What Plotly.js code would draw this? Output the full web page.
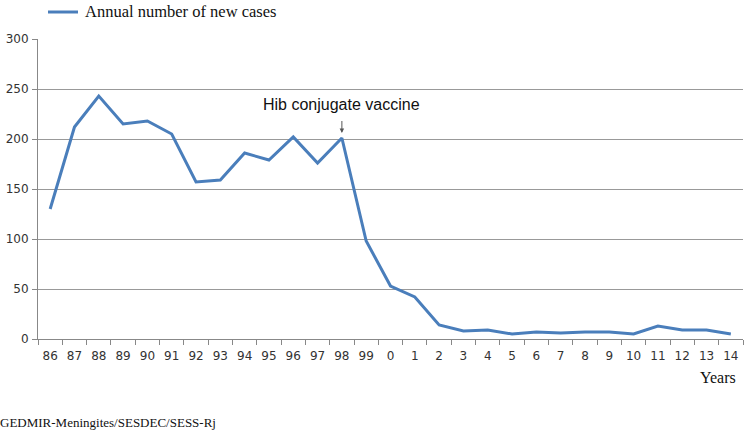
<!DOCTYPE html>
<html><head><meta charset="utf-8">
<script src="https://cdn.plot.ly/plotly-3.0.1.min.js"></script>
<style>html,body{margin:0;padding:0;background:#fff}#c{width:750px;height:433px}</style>
</head><body><div id="c"></div>
<script>
const years = ['86','87','88','89','90','91','92','93','94','95','96','97','98','99','0','1','2','3','4','5','6','7','8','9','10','11','12','13','14'];
const newCases = [130,212,243,215,218,205,157,159,186,179,202,176,201,98,53,42,14,8,9,5,7,6,7,7,5,13,9,9,5];
const yTicks = [0,50,100,150,200,250,300];
const seriesName = 'Annual number of new cases';
const lineColor = '#4a7ebb';

const M = {l:38, r:7, t:39, b:94};
const pw = 750-M.l-M.r, ph = 433-M.t-M.b;
const px = v => (v-M.l)/pw;          // pixel x -> paper
const py = v => (433-M.b-v)/ph;      // pixel y -> paper

const trace = {
  x: years, y: newCases, type:'scatter', mode:'lines',
  name: seriesName, showlegend:false,
  line:{color:lineColor, width:3}
};
const layout = {
  width:750, height:433,
  margin:M,
  paper_bgcolor:'#fff', plot_bgcolor:'#fff',
  showlegend:false,
  xaxis:{type:'category', categoryorder:'array', categoryarray:years, tickvals:years, ticktext:years,
    range:[-0.5, years.length-0.5],
    tickson:'boundaries', ticks:'outside', ticklen:5, tickcolor:'#888', ticklabelstandoff:6,
    showline:true, linecolor:'#888', linewidth:1, showgrid:false, zeroline:false,
    tickfont:{family:'DejaVu Sans', size:12, color:'#333'}, tickangle:0},
  yaxis:{range:[0,300], tickvals:yTicks, ticks:'outside', ticklen:5, tickcolor:'#888', ticklabelstandoff:1,
    showline:true, linecolor:'#888', linewidth:1, showgrid:true, gridcolor:'#999', gridwidth:1,
    zeroline:false, tickfont:{family:'DejaVu Sans', size:12, color:'#333'}},
  shapes:[
    {type:'line', xref:'paper', yref:'paper', x0:px(48), x1:px(78), y0:py(12), y1:py(12),
     line:{color:lineColor, width:3}}
  ],
  annotations:[
    {x:years.indexOf('98'), y:newCases[years.indexOf('98')], xref:'x', yref:'y', text:'Hib conjugate vaccine', showarrow:true,
     ax:0, ay:-34, arrowhead:2, arrowsize:0.9, arrowwidth:1, arrowcolor:'#555', standoff:5, startstandoff:7,
     font:{family:'Liberation Sans', size:16, color:'#111'}},
    {text:seriesName, xref:'paper', yref:'paper', x:px(83), y:py(12), showarrow:false, xanchor:'left', yanchor:'middle',
     font:{family:'Liberation Serif', size:16.5, color:'#111'}},
    {text:'Years', xref:'paper', yref:'paper', x:px(738), y:py(378), showarrow:false, xanchor:'right', yanchor:'middle',
     font:{family:'Liberation Serif', size:16, color:'#111'}},
    {text:'GEDMIR-Meningites/SESDEC/SESS-Rj', xref:'paper', yref:'paper', x:px(-2), y:py(422), showarrow:false, xanchor:'left', yanchor:'middle',
     font:{family:'Liberation Serif', size:13, color:'#111'}}
  ]
};
Plotly.newPlot('c',[trace],layout,{displayModeBar:false,staticPlot:true});
</script></body></html>
